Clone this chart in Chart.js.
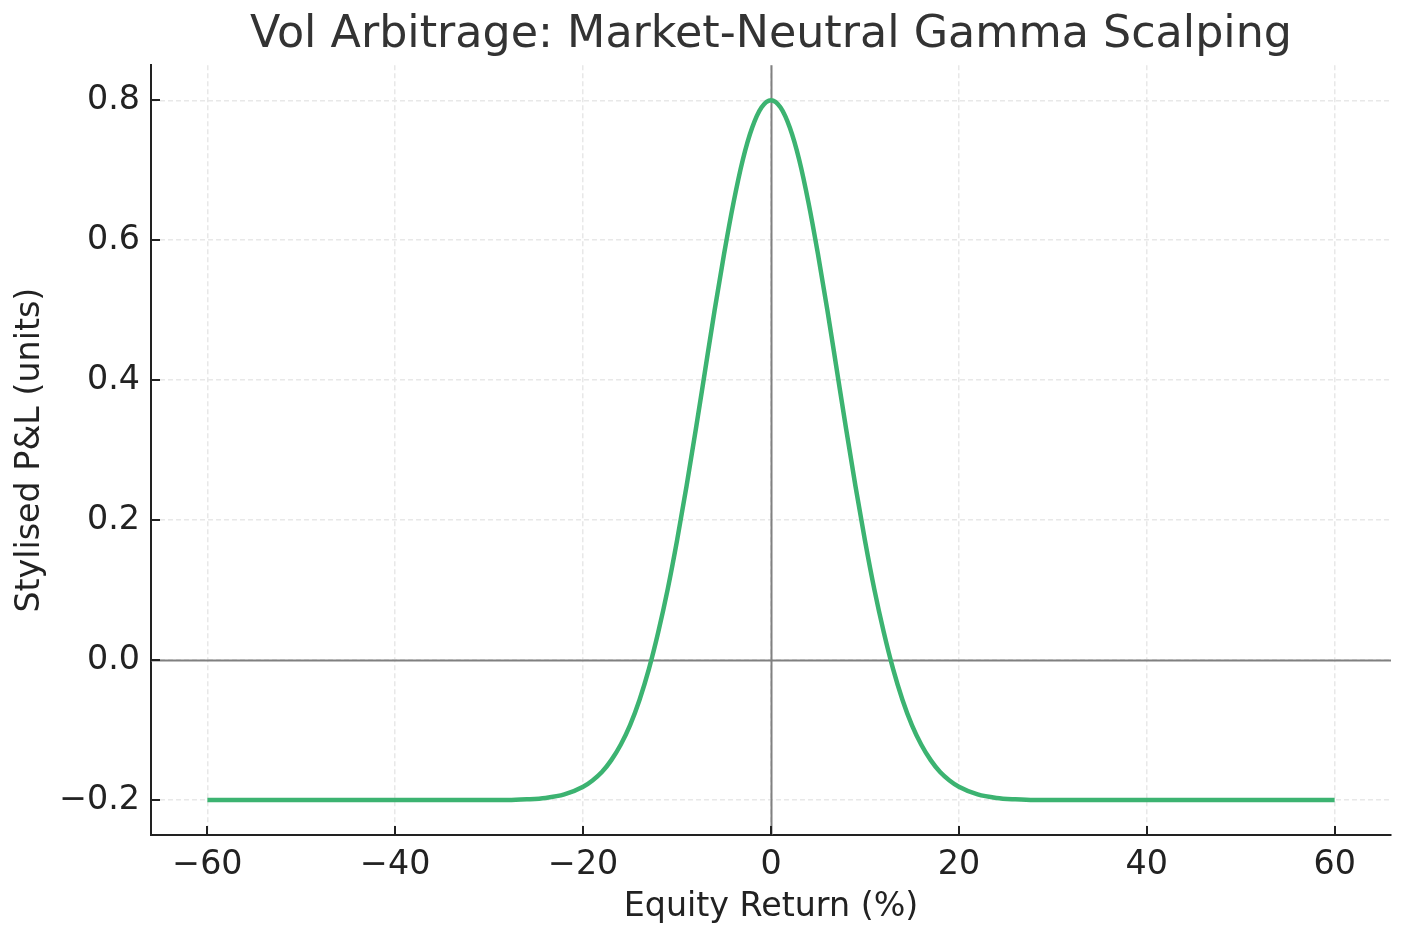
<!DOCTYPE html>
<html>
<head>
<meta charset="utf-8">
<script src="https://cdn.jsdelivr.net/npm/chart.js@4.4.0/dist/chart.umd.min.js"></script>
<style>
  html, body { margin: 0; padding: 0; background: #fff; }
  #wrap { width: 1411px; height: 933px; }
</style>
</head>
<body>
<div id="wrap"><canvas id="pnl-chart" width="1411" height="933"></canvas></div>
<script>
// values
const equityReturn = [-60, -50, -40, -30, -28, -26, -24, -22, -20, -19, -18, -17, -16, -15, -14, -13, -12, -11, -10, -9, -8, -7, -6, -5, -4, -3, -2, -1, 0,
    1, 2, 3, 4, 5, 6, 7, 8, 9, 10, 11, 12, 13, 14, 15, 16, 17, 18, 19, 20, 22, 24, 26, 28, 30, 40, 50, 60];
const stylisedPnl = [-0.200, -0.200, -0.200, -0.200, -0.200, -0.199, -0.197, -0.192, -0.181, -0.172, -0.160, -0.143, -0.121, -0.093, -0.057, -0.013, 0.040, 0.101, 0.171, 0.248, 0.330, 0.415, 0.500, 0.580, 0.653, 0.715, 0.761, 0.790, 0.800,
    0.790, 0.761, 0.715, 0.653, 0.580, 0.500, 0.415, 0.330, 0.248, 0.171, 0.101, 0.040, -0.013, -0.057, -0.093, -0.121, -0.143, -0.160, -0.172, -0.181, -0.192, -0.197, -0.199, -0.200, -0.200, -0.200, -0.200, -0.200];
const xTicks = [-60, -40, -20, 0, 20, 40, 60];
const yTicks = [-0.2, 0, 0.2, 0.4, 0.6, 0.8];

const FONT = 'DejaVu Sans';
const INK = '#222222';

function fmt(v, digits) {
    const s = Math.abs(v).toFixed(digits);
    return (v < 0 && Number(s) !== 0) ? '\u2212' + s : s;
}

// zero lines + inward tick marks, matplotlib style
const axisExtras = {
    id: 'axisExtras',
    beforeDatasetsDraw(chart) {
        const {ctx, chartArea: a, scales: {x, y}} = chart;
        ctx.save();
        ctx.strokeStyle = '#808080';
        ctx.lineWidth = 2;
        ctx.beginPath();
        const y0 = Math.round(y.getPixelForValue(0)) + 0.5;
        const x0 = Math.round(x.getPixelForValue(0)) + 0.5;
        ctx.moveTo(a.left, y0); ctx.lineTo(a.right, y0);
        ctx.moveTo(x0, a.top); ctx.lineTo(x0, a.bottom);
        ctx.stroke();
        ctx.restore();
    },
    afterDraw(chart) {
        const {ctx, chartArea: a, scales: {x, y}} = chart;
        ctx.save();
        ctx.strokeStyle = INK;
        ctx.lineWidth = 2;
        ctx.beginPath();
        x.ticks.forEach(t => {
            const px = Math.round(x.getPixelForValue(t.value));
            ctx.moveTo(px, a.bottom); ctx.lineTo(px, a.bottom - 9);
        });
        y.ticks.forEach(t => {
            const py = Math.round(y.getPixelForValue(t.value));
            ctx.moveTo(a.left, py); ctx.lineTo(a.left + 9, py);
        });
        ctx.stroke();
        ctx.restore();
    }
};

const ctx = document.getElementById('pnl-chart').getContext('2d');

new Chart(ctx, {
    type: 'line',
    data: {
        datasets: [{
            label: 'Stylised P&L',
            data: equityReturn.map((xv, i) => ({x: xv, y: stylisedPnl[i]})),
            borderColor: '#3cb371',
            borderWidth: 4.5,
            pointRadius: 0,
            cubicInterpolationMode: 'monotone',
            fill: false
        }]
    },
    options: {
        responsive: false,
        animation: false,
        devicePixelRatio: 1,
        layout: { padding: { left: 0, right: 20, top: 0, bottom: 0 } },
        plugins: {
            legend: { display: false },
            tooltip: { enabled: false },
            title: {
                display: true,
                text: 'Vol Arbitrage: Market-Neutral Gamma Scalping',
                fullSize: false,
                color: '#333333',
                font: { family: FONT, size: 44.4, weight: 'normal' },
                padding: { top: 9, bottom: 3 }
            }
        },
        scales: {
            x: {
                type: 'linear',
                min: -66,
                max: 66,
                afterBuildTicks: s => { s.ticks = xTicks.map(v => ({value: v})); },
                afterFit: s => { s.height = 98; },
                ticks: {
                    color: INK,
                    padding: 10,
                    maxRotation: 0,
                    font: { family: FONT, size: 33.3 },
                    callback: v => fmt(v, 0)
                },
                grid: { color: '#e8e8e8', lineWidth: 1.5, drawTicks: false },
                border: { color: INK, width: 2, dash: [5, 3] },
                title: {
                    display: true,
                    text: 'Equity Return (%)',
                    color: INK,
                    font: { family: FONT, size: 33.3 },
                    padding: { top: 0, bottom: 6 }
                }
            },
            y: {
                type: 'linear',
                min: -0.25,
                max: 0.85,
                afterBuildTicks: s => { s.ticks = yTicks.map(v => ({value: v})); },
                afterFit: s => { s.width = 151; },
                ticks: {
                    color: INK,
                    padding: 11,
                    font: { family: FONT, size: 33.3 },
                    callback: v => fmt(v, 1)
                },
                grid: { color: '#e8e8e8', lineWidth: 1.5, drawTicks: false },
                border: { color: INK, width: 2, dash: [5, 3] },
                title: {
                    display: true,
                    text: 'Stylised P&L (units)',
                    color: INK,
                    font: { family: FONT, size: 33.3 },
                    padding: { top: 10, bottom: 0 }
                }
            }
        }
    },
    plugins: [axisExtras]
});
</script>
</body>
</html>
